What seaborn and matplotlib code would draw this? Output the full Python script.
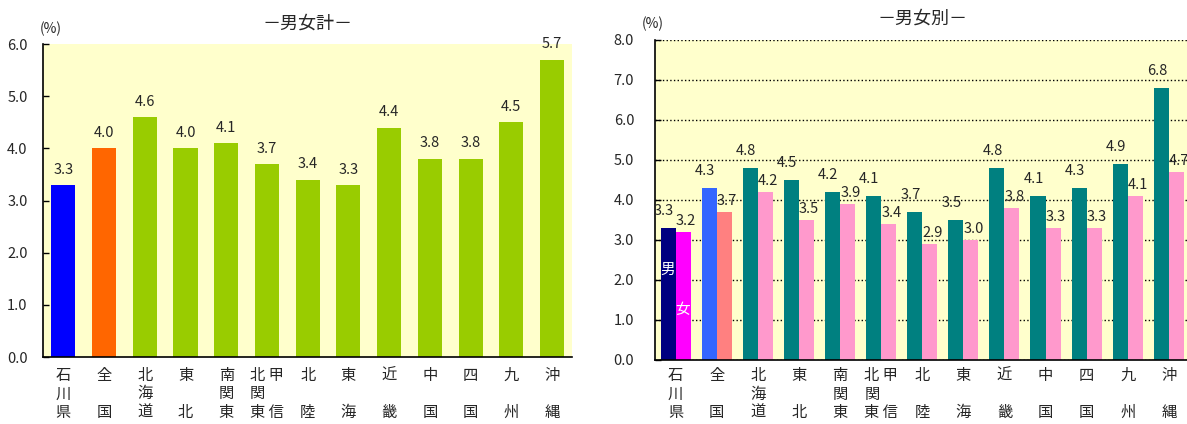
import numpy as np
import pandas as pd
import matplotlib
matplotlib.use("Agg")
import matplotlib.pyplot as plt
import seaborn as sns

# --- data ---
regions = ["石川県", "全国", "北海道", "東北", "南関東", "北関東甲信",
           "北陸", "東海", "近畿", "中国", "四国", "九州", "沖縄"]
tick_labels = ["石\n川\n県", "全\n\n国", "北\n海\n道", "東\n\n北", "南\n関\n東",
               "北 甲\n関\n東 信", "北\n\n陸", "東\n\n海", "近\n\n畿", "中\n\n国",
               "四\n\n国", "九\n\n州", "沖\n\n縄"]
total = [3.3, 4.0, 4.6, 4.0, 4.1, 3.7, 3.4, 3.3, 4.4, 3.8, 3.8, 4.5, 5.7]
male = [3.3, 4.3, 4.8, 4.5, 4.2, 4.1, 3.7, 3.5, 4.8, 4.1, 4.3, 4.9, 6.8]
female = [3.2, 3.7, 4.2, 3.5, 3.9, 3.4, 2.9, 3.0, 3.8, 3.3, 3.3, 4.1, 4.7]

total_colors = ["#0000FF", "#FF6600"] + ["#99CC00"] * 11
male_colors = ["#000080", "#3366FF"] + ["#008080"] * 11
female_colors = ["#FF00FF", "#FF8080"] + ["#FF99CC"] * 11

BG = "#FFFFCC"

sns.set_style("white")
plt.rcParams["font.family"] = ["Noto Sans CJK JP", "DejaVu Sans"]

fig = plt.figure(figsize=(11.87, 4.24), dpi=100)
ax1 = fig.add_axes([0.0362, 0.158, 0.446, 0.738])
ax2 = fig.add_axes([0.5518, 0.151, 0.4502, 0.7547])


def style_axes(ax, ymax, ypad, xpad):
    ax.set_facecolor(BG)
    ax.set_xlim(-0.5, 12.5)
    ax.set_ylim(0, ymax)
    ax.set_yticks(np.arange(0, ymax + 0.01, 1.0))
    ax.set_yticklabels([f"{v:.1f}" for v in np.arange(0, ymax + 0.01, 1.0)],
                       fontsize=10.5)
    ax.set_xticks(range(len(regions)))
    ax.set_xticklabels(tick_labels, fontsize=11, linespacing=1.13, va="top")
    for lbl in ax.get_xticklabels():
        lbl.set_multialignment("left")
    ax.set_xticks(np.arange(0.5, 12, 1.0), minor=True)
    ax.tick_params(axis="x", which="major", length=0, pad=xpad)
    ax.tick_params(axis="x", which="minor", direction="in", length=4,
                   color="black", width=1)
    ax.tick_params(axis="y", direction="in", length=4, color="black",
                   width=1, pad=ypad, left=True)
    for s in ["top", "right"]:
        ax.spines[s].set_visible(False)
    for s in ["left", "bottom"]:
        ax.spines[s].set_color("black")
        ax.spines[s].set_linewidth(1.2)
    ax.set_xlabel("")
    ax.set_ylabel("")


# --- left: total ---
sns.barplot(x=regions, y=total, hue=regions, palette=total_colors,
            legend=False, width=0.59, linewidth=0, saturation=1, ax=ax1)
style_axes(ax1, 6.0, 11, 7)
for cont in ax1.containers:
    ax1.bar_label(cont, fmt="%.1f", padding=6, fontsize=10.5)
ax1.set_title("－男女計－", fontsize=13, pad=11)
ax1.text(-0.006, 1.05, "(%)", transform=ax1.transAxes, fontsize=10,
         ha="left", va="center")

# --- right: by sex ---
df = pd.DataFrame({
    "region": regions * 2,
    "value": male + female,
    "sex": ["男"] * len(regions) + ["女"] * len(regions),
})
sns.barplot(data=df, x="region", y="value", hue="sex", hue_order=["男", "女"],
            palette=["#008080", "#FF99CC"], width=0.73, linewidth=0,
            saturation=1, legend=False, ax=ax2)
style_axes(ax2, 8.0, 15, 5)
offsets = [(-3, 7), (2, 3)]
for cont, cols, off in zip(ax2.containers, [male_colors, female_colors], offsets):
    for bar, c in zip(cont, cols):
        bar.set_facecolor(c)
        ax2.annotate(f"{bar.get_height():.1f}",
                     (bar.get_x() + bar.get_width() / 2, bar.get_height()),
                     xytext=off, textcoords="offset points",
                     ha="center", va="bottom", fontsize=10.5)
ax2.grid(axis="y", linestyle=":", color="black", linewidth=1)
ax2.set_axisbelow(True)
ax2.text(-0.18, 2.25, "男", color="white", fontsize=10.5, ha="center", va="center")
ax2.text(0.18, 1.25, "女", color="white", fontsize=10.5, ha="center", va="center")
ax2.set_title("－男女別－", fontsize=13, pad=12)
ax2.text(-0.024, 1.05, "(%)", transform=ax2.transAxes, fontsize=10,
         ha="left", va="center")

fig.savefig("out.png", dpi=100, facecolor="white")
